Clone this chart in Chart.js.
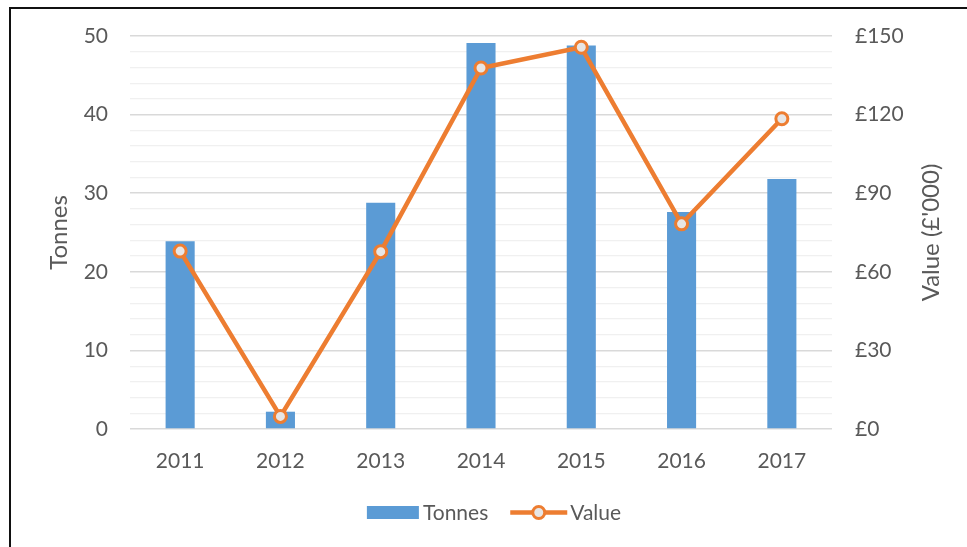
<!DOCTYPE html>
<html lang="en">
<head>
<meta charset="UTF-8">
<title>Tonnes and Value</title>
<script src="https://cdn.jsdelivr.net/npm/chart.js"></script>
<style>
    html, body { margin: 0; padding: 0; background: #fff; }
    .frame {
        position: absolute;
        left: 9px;
        top: 7px;
        width: 958px;
        height: 540px;
        border-left: 2px solid #111;
        border-top: 2px solid #111;
        background: #fff;
    }
    .frame canvas { display: block; }
</style>
</head>
<body>
<div class="frame">
    <canvas id="chart" width="956" height="538"></canvas>
</div>

<script>
    const years = ['2011', '2012', '2013', '2014', '2015', '2016', '2017'];
    const tonnes = [23.9, 2.2, 28.8, 49.1, 48.8, 27.6, 31.8];
    const value = [67.9, 4.8, 67.7, 137.8, 145.7, 78.3, 118.4];
    const tonnesTicks = [0, 10, 20, 30, 40, 50];
    const valueTicks = [0, 30, 60, 90, 120, 150];

    const blue = '#5b9bd5';
    const orange = '#ed7d31';
    const markerFill = '#e7e6e6';
    const textColor = '#595959';
    const fontFamily = 'Lato, "Open Sans", sans-serif';

    // axis titles drawn by hand so the right one reads bottom-to-top like the left one
    const axisTitles = {
        id: 'axisTitles',
        afterDraw(chart) {
            const { ctx, chartArea } = chart;
            const midY = (chartArea.top + chartArea.bottom) / 2;
            ctx.save();
            ctx.fillStyle = textColor;
            ctx.font = '24px ' + fontFamily;
            ctx.textAlign = 'center';
            ctx.textBaseline = 'middle';
            [['Tonnes', 48], ["Value (£'000)", 920]].forEach(([text, x]) => {
                ctx.save();
                ctx.translate(x, midY);
                ctx.rotate(-Math.PI / 2);
                ctx.fillText(text, 0, 0);
                ctx.restore();
            });
            ctx.restore();
        }
    };

    // Excel-like legend: bar swatch, then a line with a marker
    const excelLegend = {
        id: 'excelLegend',
        afterDraw(chart) {
            const { ctx } = chart;
            const ds = chart.data.datasets;
            const y = 503.5;
            ctx.save();
            ctx.font = '21px ' + fontFamily;
            ctx.textBaseline = 'middle';
            const w0 = ctx.measureText(ds[0].label).width;
            const w1 = ctx.measureText(ds[1].label).width;
            const total = 52 + 4 + w0 + 22 + 57 + 3 + w1;
            let x = 483 - total / 2;

            ctx.fillStyle = blue;
            ctx.fillRect(x, y - 6.5, 52, 13);
            x += 56;
            ctx.fillStyle = textColor;
            ctx.fillText(ds[0].label, x, y + 1);
            x += w0 + 22;

            ctx.strokeStyle = orange;
            ctx.lineWidth = 4.5;
            ctx.beginPath();
            ctx.moveTo(x, y); ctx.lineTo(x + 57, y);
            ctx.stroke();
            ctx.beginPath();
            ctx.arc(x + 28.5, y, 6, 0, Math.PI * 2);
            ctx.fillStyle = markerFill;
            ctx.fill();
            ctx.lineWidth = 3;
            ctx.stroke();
            x += 60;
            ctx.fillStyle = textColor;
            ctx.fillText(ds[1].label, x, y + 1);
            ctx.restore();
        }
    };

    new Chart(document.getElementById('chart'), {
        type: 'bar',
        data: {
            labels: years,
            datasets: [{
                type: 'bar',
                label: 'Tonnes',
                data: tonnes,
                backgroundColor: blue,
                barPercentage: 0.29,
                categoryPercentage: 1,
                yAxisID: 'y',
                order: 2
            }, {
                type: 'line',
                label: 'Value',
                data: value,
                borderColor: orange,
                borderWidth: 4.5,
                pointRadius: 6,
                pointBorderWidth: 3,
                pointBackgroundColor: markerFill,
                pointBorderColor: orange,
                tension: 0,
                yAxisID: 'y1',
                order: 1
            }]
        },
        plugins: [axisTitles, excelLegend],
        options: {
            responsive: false,
            animation: false,
            layout: { padding: { left: 0, right: 0, top: 27, bottom: 73 } },
            scales: {
                x: {
                    grid: { display: false, drawTicks: false },
                    border: { display: false },
                    afterFit: s => { s.height = 45; },
                    ticks: { color: textColor, padding: 20, font: { family: fontFamily, size: 21 } }
                },
                y: {
                    position: 'left',
                    min: 0,
                    max: 50,
                    border: { display: false },
                    afterFit: s => { s.width = 119; s.paddingTop = 0; s.paddingBottom = 0; },
                    afterBuildTicks: s => {
                        const t = [];
                        for (let v = 0; v <= 50; v += 2) t.push({ value: v });
                        s.ticks = t;
                    },
                    grid: {
                        drawTicks: false,
                        color: c => tonnesTicks.includes(c.tick.value) ? '#d9d9d9' : '#f0f0f0',
                        lineWidth: c => tonnesTicks.includes(c.tick.value) ? 1.5 : 1.2
                    },
                    ticks: {
                        color: textColor,
                        padding: 22,
                        autoSkip: false,
                        font: { family: fontFamily, size: 21 },
                        callback: v => tonnesTicks.includes(v) ? String(v) : ''
                    }
                },
                y1: {
                    position: 'right',
                    min: 0,
                    max: 150,
                    border: { display: false },
                    grid: { display: false, drawOnChartArea: false, drawTicks: false },
                    afterFit: s => { s.width = 135; s.paddingTop = 0; s.paddingBottom = 0; },
                    afterBuildTicks: s => { s.ticks = valueTicks.map(v => ({ value: v })); },
                    ticks: {
                        color: textColor,
                        padding: 23,
                        font: { family: fontFamily, size: 21 },
                        callback: v => '£' + v
                    }
                }
            },
            plugins: {
                tooltip: { enabled: false },
                legend: { display: false }
            }
        }
    });
</script>
</body>
</html>
